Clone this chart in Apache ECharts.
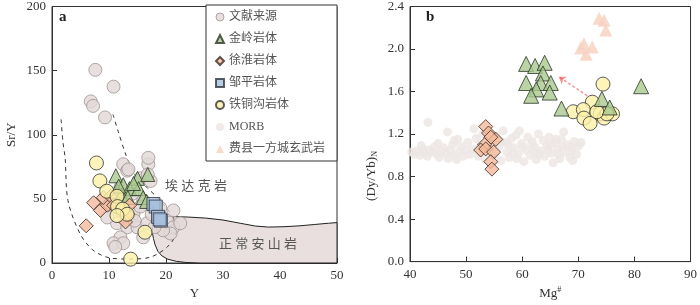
<!DOCTYPE html>
<html><head><meta charset="utf-8">
<script src="https://cdn.jsdelivr.net/npm/echarts@6/dist/echarts.min.js"></script>
<style>html,body{margin:0;padding:0;background:#fff}#c{width:700px;height:305px}</style>
</head><body><div id="c"></div>
<script>
// ---------- data ----------
const legendNames = ['文献来源','金岭岩体','徐淮岩体','邹平岩体','铁铜沟岩体','MORB','费县一方城玄武岩'];
const xTicksA = [0,10,20,30,40,50];
const yTicksA = [0,50,100,150,200];
const xTicksB = [40,50,60,70,80,90];
const yTicksB = [0,0.4,0.8,1.2,1.6,2.0,2.4];

// Panel a: [Y, Sr/Y]
const litA = [[7.6,150.6],[10.8,137.5],[6.8,126],[7.2,122.5],[9.3,113.5],
  [12.5,77],[16.9,77],[16.9,82],[15.5,66],[12,59],[14.1,54],[16,48.6],[12,41],[14.3,38.6],
  [11.4,31],[13.2,27.8],[15,27.8],[16.7,31],[19,35.5],[20.2,33],[21.3,27.8],[22.5,31],
  [20.8,23],[12,20],[10.8,15.4],[12.5,15.4],[19,43],[19.5,25.5],[9.7,35.5],[10.2,46],
  [17.3,64],[13.2,72],[13.4,73],[16.8,69],[11.1,12.5],[21.3,41],[17.5,38],[15.5,44],
  [14.5,33],[18,28],[16,20]];
const jinlingA = [[11.2,68],[15,66],[16.8,69],[12.5,61],[13.6,58],[15.2,58],[11.5,56],
  [12.2,53],[13.3,51],[16,51],[16.6,48],[11.7,60],[14.3,62]];
const xuhuaiA = [[6,29],[7.3,47],[8.5,41],[9.7,45],[9,51],[10.3,52],[10.8,45],[13.6,45],[12.9,32],[13.3,38]];
const zoupingA = [[17.8,46],[18.2,44],[18.6,36],[19.1,33],[18.9,34]];
const tietonggouA = [[7.8,78],[8.4,64],[9.6,56],[11.4,52],[11.5,44],[12.4,42],[13.2,38],[11.4,37],[16.3,24],[13.8,3]];
// adakite envelope (dashed) and normal andesite field
const adakiteCurve = [[1.6,112],[1.9,95],[2.3,82],[2.8,48.6],[4.9,23],[7.2,10],[10.2,3.9],[13.7,3.1],
  [17.3,4.6],[20.2,12.4],[21.7,23],[21.5,33],[19,48.6],[16.4,60],[14.1,71.8],[12.9,85],[11.6,102.7],[10.7,115.8]];
const andesiteField = [[18.6,36],[20.8,36.3],[24,35.8],[27,35],[30,33.5],[33,31],[35.7,28.8],[38,28],
  [40.7,28.3],[43.5,29],[46,30],[48.5,31],[50,31.5],[50,0],[26,0],[23.5,0.4],[21.8,1.3],[20.3,3],
  [19.3,5.5],[18.6,9],[18.1,14],[17.8,19],[17.6,24],[17.6,28],[17.7,33],[18,35.2]];

// Panel b: [Mg#, (Dy/Yb)N]
const morbB = [[40.3,1.03],[40.8,1.01],[41.3,1.04],[41.8,1.00],[42.3,1.06],[42.6,1.02],[43.1,0.99],[43.5,1.05],
  [44.0,1.03],[44.4,1.08],[44.8,1.01],[45.2,0.98],[45.6,1.04],[46.0,1.07],[46.4,1.02],[46.8,0.97],[47.2,1.05],
  [47.6,1.10],[47.9,1.00],[48.3,0.96],[48.7,1.03],[49.1,1.08],[49.5,0.99],[49.9,1.05],[50.3,1.12],[50.7,1.01],
  [43.2,1.31],[46.7,1.22],[47.9,1.14],[42.0,1.09],[45.0,1.11],[48.5,1.15],
  [51.2,1.06],[51.4,1.25],[51.8,1.16],[52.2,0.99],[52.5,1.10],[53.0,1.20],[53.4,0.96],[53.8,1.03],[54.2,1.14],
  [55.0,1.00],[55.4,1.18],[55.8,1.08],[56.2,0.95],[56.6,1.23],[57.0,1.12],[57.3,1.03],[57.7,0.98],[58.1,1.16],
  [58.5,1.07],[58.9,1.19],[59.3,1.01],[59.5,1.23],[59.9,1.11],[60.3,0.94],[60.7,1.05],[61.0,1.17],[61.4,1.00],
  [61.8,1.13],[62.2,1.08],[62.5,0.96],[62.9,1.20],[63.3,1.04],[63.7,1.14],[64.0,0.99],[64.4,1.09],[64.8,1.17],
  [65.2,1.02],[65.5,0.93],[65.9,1.12],[66.3,1.06],[66.7,0.97],[67.0,1.15],[67.4,1.22],[67.7,1.03],[68.1,1.10],
  [68.5,0.98],[68.9,1.07],[69.3,1.13],[69.7,1.01],[70.1,1.09],[70.5,1.12],[54.6,1.07],[56.0,1.13],[57.5,1.10],
  [59.0,0.97],[60.0,1.08],[61.6,1.10],[63.0,1.01],[64.6,1.05],[66.0,1.15],[67.2,1.08],[68.8,1.04],[52.8,1.04],
  [55.2,1.10],[58.2,1.02],[62.0,1.03],[65.0,1.10],[66.5,1.01],[69.0,0.95]];
const jinlingB = [[60.7,1.86],[62.3,1.84],[64,1.87],[63.7,1.77],[60.7,1.68],[63.3,1.68],[65.1,1.68],
  [62.5,1.62],[61.6,1.56],[64.9,1.59],[67,1.44],[74.2,1.53],[75.6,1.45],[81.2,1.65]];
const xuhuaiB = [[53.5,1.27],[54,1.21],[55.3,1.15],[54.4,1.17],[53.3,1.10],[52.6,1.05],[53.5,1.06],[54.9,1.03],[54.4,0.94],[54.6,0.87]];
const tietonggouB = [[74.4,1.67],[72.5,1.50],[69.1,1.41],[70.9,1.43],[71,1.35],[72.1,1.30],[73.9,1.39],[74.6,1.35],[76.1,1.39],[75.1,1.39],[73.3,1.41]];
const feixianB = [[73.7,2.29],[74.6,2.27],[74.9,2.18],[71,2.05],[70.4,2.01],[72.5,2.02],[71.4,1.95]];
const trendArrow = [[71.6,1.56],[66.5,1.74]];

// ---------- chart ----------
const SERIF = '"Liberation Serif","DejaVu Serif","Noto Sans CJK SC",serif';
const AX = '#333';
function xAxis(gi, min, max, interval, nameText){
  return {gridIndex:gi, type:'value', min, max, interval,
    name:nameText, nameLocation:'middle', nameGap:22,
    nameTextStyle:{fontFamily:SERIF, fontSize:13, color:'#333',
      rich:{sup:{fontFamily:SERIF, fontSize:8, verticalAlign:'top', padding:[0,0,8,0], color:'#333'}}},
    axisLine:{show:true, onZero:false, lineStyle:{color:AX, width:1}},
    axisTick:{show:true, inside:true, length:5, lineStyle:{color:AX}},
    axisLabel:{fontFamily:SERIF, fontSize:13, color:'#333', margin:6},
    splitLine:{show:false}};
}
function yAxis(gi, min, max, interval, nameText, fmt){
  return {gridIndex:gi, type:'value', min, max, interval,
    name:nameText, nameLocation:'middle', nameGap:34,
    nameTextStyle:{fontFamily:SERIF, fontSize:13, color:'#333'},
    axisLine:{show:true, onZero:false, lineStyle:{color:AX, width:1}},
    axisTick:{show:true, inside:true, length:5, lineStyle:{color:AX}},
    axisLabel:{fontFamily:SERIF, fontSize:13, color:'#333', margin:6, formatter:fmt},
    splitLine:{show:false}};
}
const st = {
  lit:{color:'#e2d8d7', borderColor:'#9d9392', borderWidth:1},
  jl:{color:'#a9c98f', borderColor:'#2b3526', borderWidth:1},
  xh:{color:'#f5b99b', borderColor:'#3a2a22', borderWidth:1},
  zp:{color:'#a6bfdc', borderColor:'#2e3440', borderWidth:1},
  tt:{color:'#fcf1a8', borderColor:'#333', borderWidth:1},
  morb:{color:'#ece6e3'},
  fx:{color:'#f8d0bd'}
};
const option = {
  animation:false,
  backgroundColor:'#fff',
  grid:[
    {left:52, top:5, width:285, height:258, show:true, borderColor:AX, borderWidth:1, backgroundColor:'transparent'},
    {left:410, top:5, width:285, height:258, show:true, borderColor:AX, borderWidth:1, backgroundColor:'transparent'}
  ],
  xAxis:[xAxis(0,0,50,10,'Y'), xAxis(1,40,90,10,'Mg{sup|#}')],
  yAxis:[yAxis(0,0,200,50,'Sr/Y'), yAxis(1,0,2.4,0.4,'', v=>v.toFixed(1))],
  legend:{
    left:206, top:5, orient:'vertical', itemWidth:8, itemHeight:8, itemGap:10,
    padding:[6,12,6,9], borderColor:AX, borderWidth:1, backgroundColor:'#fff',
    textStyle:{fontFamily:SERIF, fontSize:12, color:'#555'},
    data:[
      {name:'文献来源', icon:'circle', itemStyle:{borderWidth:1}},
      {name:'金岭岩体', icon:'triangle'},
      {name:'徐淮岩体', icon:'diamond'},
      {name:'邹平岩体', icon:'rect'},
      {name:'铁铜沟岩体', icon:'circle'},
      {name:'MORB', icon:'circle'},
      {name:'费县一方城玄武岩', icon:'triangle'}
    ]
  },
  graphic:[
    {type:'text', left:59, top:10, style:{text:'a', font:'bold 15px '+SERIF, fill:'#222'}},
    {type:'text', left:426, top:10, style:{text:'b', font:'bold 15px '+SERIF, fill:'#222'}},
    {type:'text', x:196, y:185, style:{text:'埃\u2005达\u2005克\u2005岩', font:'13px "Noto Sans CJK SC",sans-serif', fill:'#555', align:'center', verticalAlign:'middle'}, z:50},
    {type:'text', x:258, y:243, style:{text:'正\u2005常\u2005安\u2005山\u2005岩', font:'13px "Noto Sans CJK SC",sans-serif', fill:'#555', align:'center', verticalAlign:'middle'}, z:50},
    {type:'text', x:372, y:176, rotation:Math.PI/2,
      style:{text:'(Dy/Yb){sub|N}', font:'13px '+SERIF, fill:'#333', align:'center', verticalAlign:'middle',
        rich:{sub:{fontFamily:SERIF, fontSize:8, verticalAlign:'bottom', padding:[6,0,0,0], fill:'#333'}}}}
  ],
  series:[
    {type:'custom', xAxisIndex:0, yAxisIndex:0, data:andesiteField, silent:true, z:1,
      renderItem:(params, api)=>{
        if (params.dataIndex !== 0) return null;
        const pts = andesiteField.map(p=>api.coord(p));
        return {type:'polygon', shape:{points:pts}, style:{fill:'#e9dfde', stroke:'#222', lineWidth:1}};
      }},
    {type:'line', xAxisIndex:0, yAxisIndex:0, data:adakiteCurve, smooth:0.3, symbol:'none', silent:true, z:2,
      lineStyle:{color:'#333', width:1, type:[4,4]}},
    {name:'文献来源', type:'scatter', xAxisIndex:0, yAxisIndex:0, data:litA, symbol:'circle', symbolSize:13, itemStyle:st.lit, z:3},
    {name:'金岭岩体', type:'scatter', xAxisIndex:0, yAxisIndex:0, data:jinlingA, symbol:'triangle', symbolSize:14, itemStyle:st.jl, z:4},
    {name:'徐淮岩体', type:'scatter', xAxisIndex:0, yAxisIndex:0, data:xuhuaiA, symbol:'diamond', symbolSize:14, itemStyle:st.xh, z:4},
    {name:'邹平岩体', type:'scatter', xAxisIndex:0, yAxisIndex:0, data:zoupingA, symbol:'rect', symbolSize:13, itemStyle:st.zp, z:5},
    {name:'铁铜沟岩体', type:'scatter', xAxisIndex:0, yAxisIndex:0, data:tietonggouA, symbol:'circle', symbolSize:14, itemStyle:st.tt, z:6},
    {name:'MORB', type:'scatter', xAxisIndex:1, yAxisIndex:1, data:morbB, symbol:'circle', symbolSize:9, itemStyle:st.morb, z:2},
    {name:'费县一方城玄武岩', type:'scatter', xAxisIndex:1, yAxisIndex:1, data:feixianB, symbol:'triangle', symbolSize:13, itemStyle:st.fx, z:3},
    {name:'徐淮岩体', type:'scatter', xAxisIndex:1, yAxisIndex:1, data:xuhuaiB, symbol:'diamond', symbolSize:14, itemStyle:st.xh, z:4},
    {name:'铁铜沟岩体', type:'scatter', xAxisIndex:1, yAxisIndex:1, data:tietonggouB, symbol:'circle', symbolSize:14, itemStyle:st.tt, z:4},
    {name:'金岭岩体', type:'scatter', xAxisIndex:1, yAxisIndex:1, data:jinlingB, symbol:'triangle', symbolSize:15, itemStyle:st.jl, z:5},
    {type:'lines', coordinateSystem:'cartesian2d', xAxisIndex:1, yAxisIndex:1, z:6, silent:true,
      symbol:['none','arrow'], symbolSize:7,
      lineStyle:{color:'#e8312a', width:1.5, type:[3,2]},
      data:[{coords:trendArrow}]}
  ]
};
const chart = echarts.init(document.getElementById('c'), null, {renderer:'canvas'});
chart.setOption(option);
</script></body></html>
